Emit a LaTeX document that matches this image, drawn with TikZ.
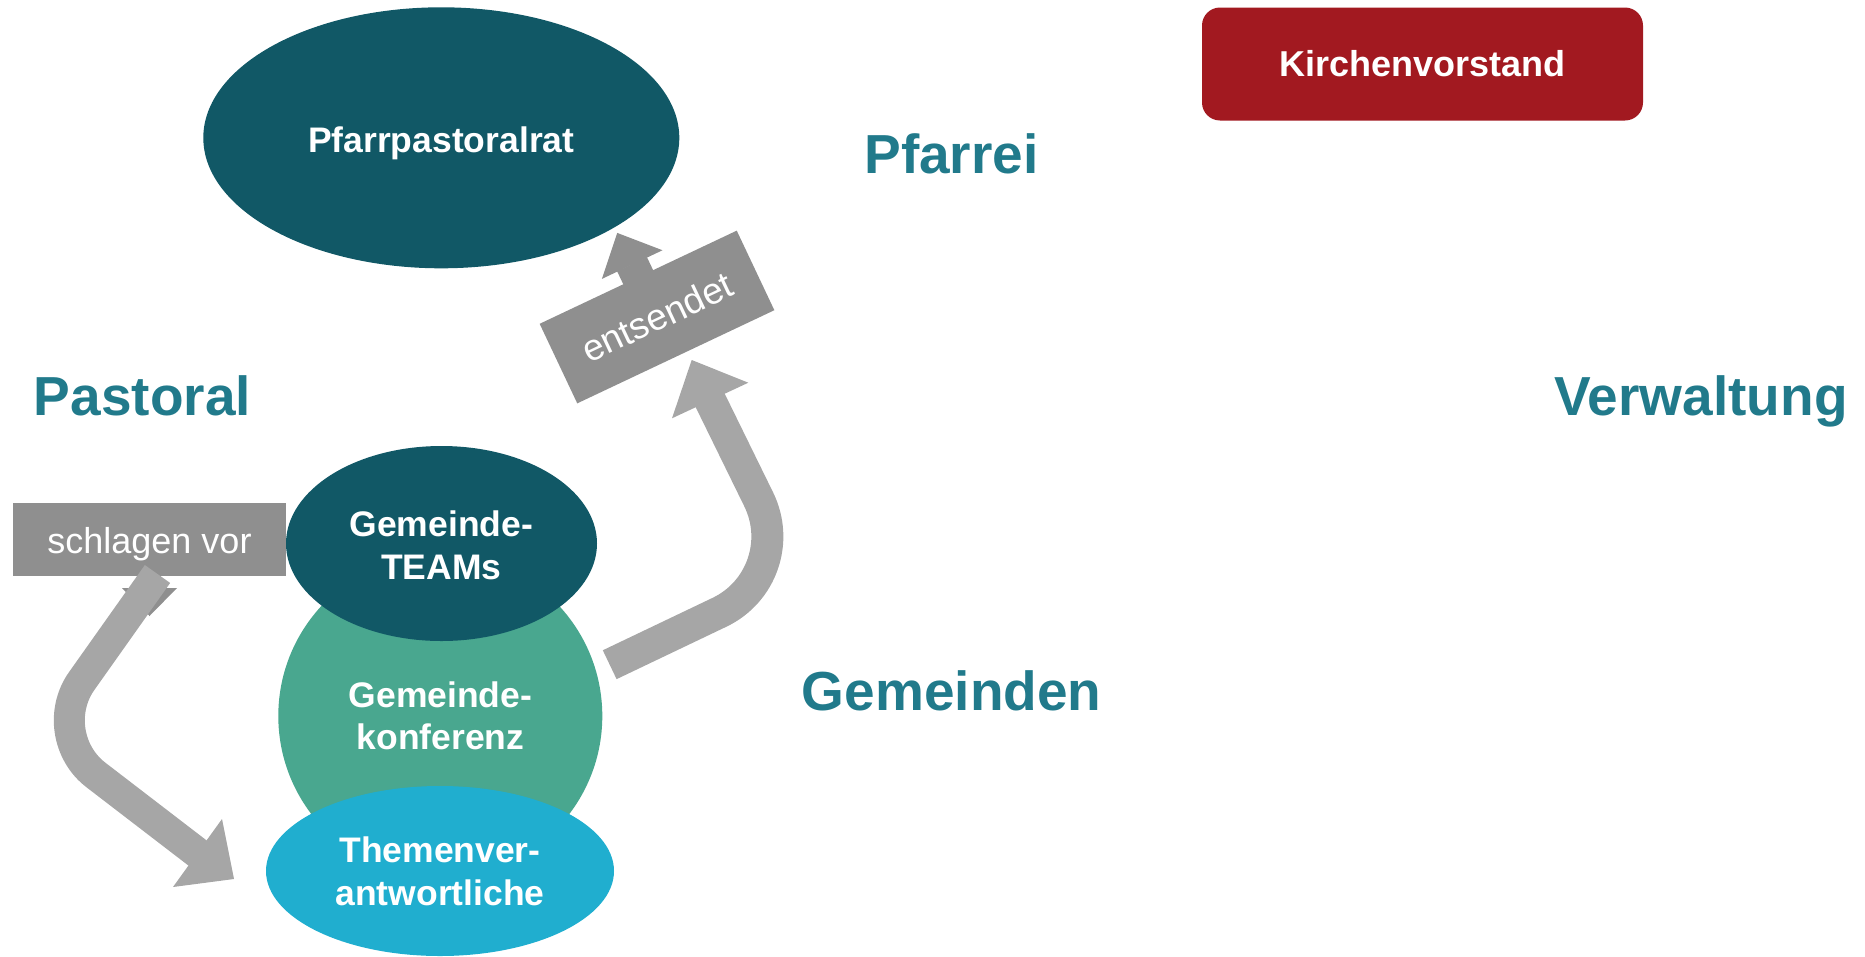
\documentclass[tikz,border=0pt]{standalone}
\usepackage{fontspec}
\setmainfont{Liberation Sans}
\usetikzlibrary{shapes.geometric}
\definecolor{dteal}{HTML}{115866}
\definecolor{mgreen}{HTML}{49A78F}
\definecolor{lblue}{HTML}{20AECF}
\definecolor{lblteal}{HTML}{217A8B}
\definecolor{kred}{HTML}{A21920}
\definecolor{boxgrey}{HTML}{8F8F8F}
\definecolor{arrgrey}{HTML}{A6A6A6}
\begin{document}
\begin{tikzpicture}[x=1pt,y=-1pt,
  lbl/.style={anchor=base, text=lblteal, inner sep=0, font=\bfseries\fontsize{55}{60}\selectfont},
  etxt/.style={anchor=base, text=white, inner sep=0, font=\bfseries\fontsize{35.5}{43}\selectfont},
  rtxt/.style={anchor=base, text=white, inner sep=0, font=\fontsize{36}{43}\selectfont},
  oval/.style={ellipse, inner sep=0, draw=none},
  shaft/.style={draw=arrgrey, line cap=butt, line join=miter}]
\useasboundingbox (0,0) rectangle (1865,956);

% schlagen vor box with its small down callout
\node[rectangle, fill=boxgrey, minimum width=273pt, minimum height=73pt, inner sep=0] (sv) at (149.5,539.5) {};
\node[rtxt] (svt) at (149.5,553) {schlagen vor};
\fill[boxgrey] (138,574) rectangle (161,589);
\fill[boxgrey] (122,588) -- (177,588) -- (149.5,616) -- cycle;

% left curved block arrow
\coordinate (la0) at (157.5,574);
\coordinate (la1) at (43.6,734.8);
\coordinate (la2) at (199.9,854.8);
\coordinate (lh1) at (173,887);
\coordinate (lht) at (234,879);
\coordinate (lh2) at (222,819);
\draw[shaft, line width=31pt, rounded corners=66pt] (la0) -- (la1) -- (la2);
\fill[arrgrey] (lh1) -- (lht) -- (lh2) -- cycle;

% right curved block arrow
\coordinate (ra0) at (609.7,664.7);
\coordinate (ra1) at (796.1,575.7);
\coordinate (ra2) at (708.9,397.8);
\coordinate (rh1) at (672,418.3);
\coordinate (rht) at (691.7,360);
\coordinate (rh2) at (748.3,382.7);
\draw[shaft, line width=32pt, rounded corners=85pt] (ra0) -- (ra1) -- (ra2);
\fill[arrgrey] (rh1) -- (rht) -- (rh2) -- cycle;

% ellipses
\node[oval, fill=dteal, minimum width=476pt, minimum height=261pt] (ppr) at (441.3,137.8) {};
\node[etxt] (pprt) at (441.3,152.7) {Pfarrpastoralrat};

\node[oval, fill=mgreen, minimum width=324pt, minimum height=324pt] (gk) at (440.3,716) {};
\node[oval, fill=dteal, minimum width=311pt, minimum height=195pt] (gt) at (441.5,543.5) {};
\node[oval, fill=lblue, minimum width=348pt, minimum height=170pt] (tv) at (440,871) {};

\node[etxt] (gt1) at (441.3,536) {Gemeinde-};
\node[etxt] (gt2) at (441.3,579.3) {TEAMs};
\node[etxt] (gk1) at (440.5,707.3) {Gemeinde-};
\node[etxt] (gk2) at (440.5,749.3) {konferenz};
\node[etxt] (tv1) at (440,862.7) {Themenver-};
\node[etxt] (tv2) at (440,905) {antwortliche};

% entsendet box with up callout
\node[rectangle, fill=boxgrey, rotate=25.3, minimum width=218pt, minimum height=88pt, inner sep=0,
      text=white, font=\fontsize{37}{40}\selectfont] (ent) at (657,317) {entsendet};
\begin{scope}[shift={(ent.center)}, rotate=25.3]
  \fill[boxgrey] (-16.5,-40) rectangle (16.5,-58.5);
  \fill[boxgrey] (-33.5,-58) -- (33.5,-58) -- (0,-93) -- cycle;
\end{scope}

% Kirchenvorstand
\node[rectangle, rounded corners=18pt, fill=kred, minimum width=441pt, minimum height=113pt, inner sep=0,
      text=white, font=\bfseries\fontsize{36}{43}\selectfont] (kv) at (1422.5,64) {Kirchenvorstand};

% area labels
\node[lbl] (pf) at (951.5,173) {Pfarrei};
\node[lbl] (pa) at (142.5,415) {Pastoral};
\node[lbl] (vw) at (1701,415) {Verwaltung};
\node[lbl] (gm) at (951.7,710.7) {Gemeinden};
\end{tikzpicture}
\end{document}
